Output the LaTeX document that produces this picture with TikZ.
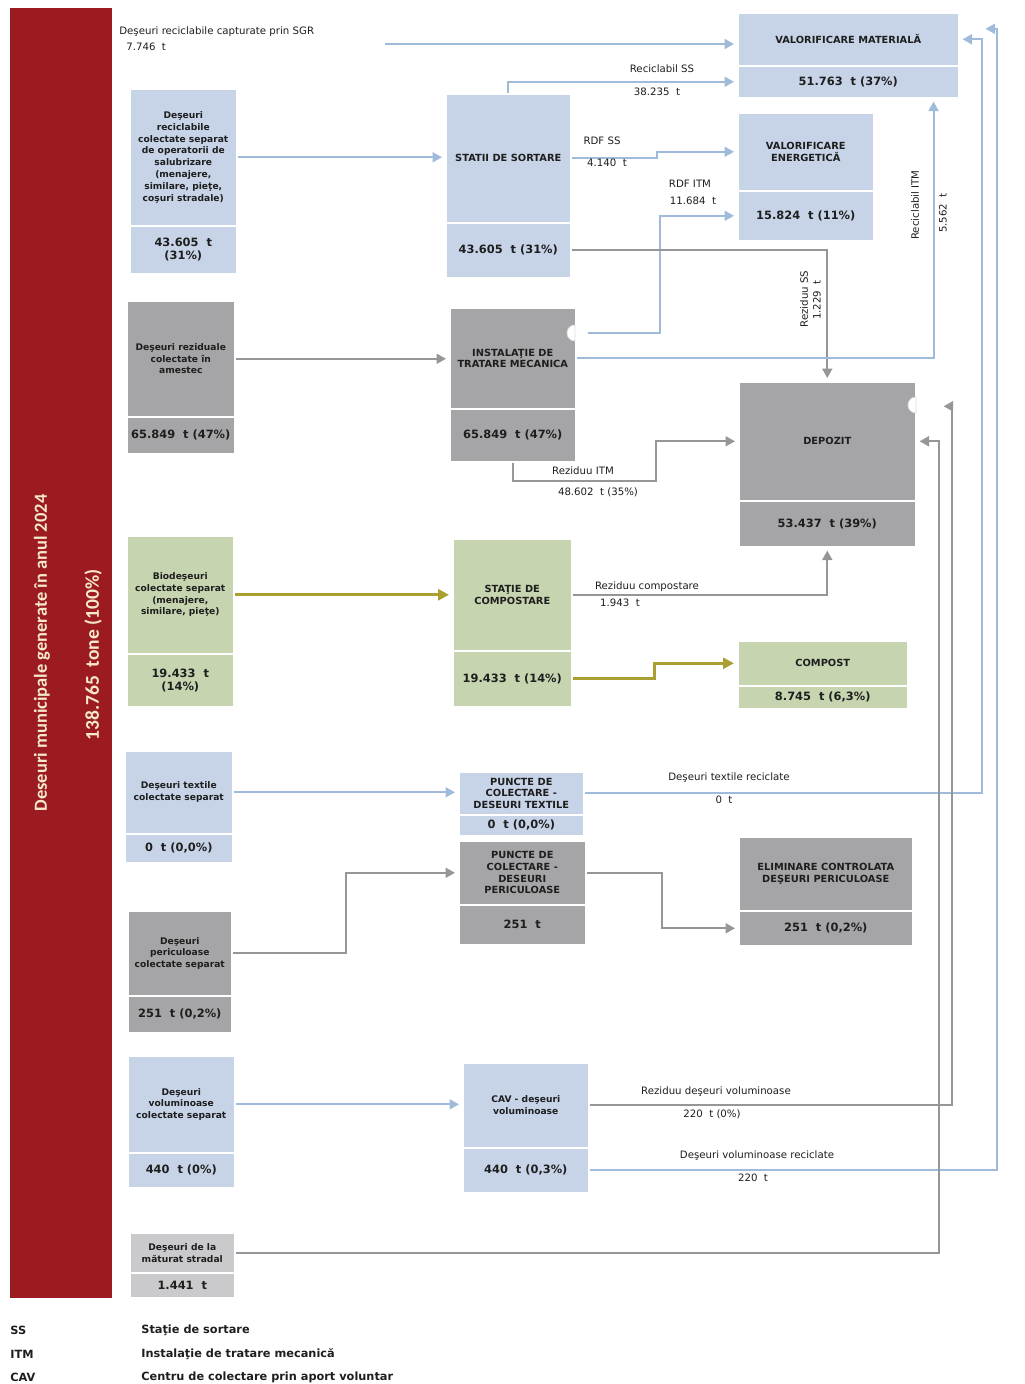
\documentclass[tikz,border=0pt]{standalone}
\usepackage{fontspec}
\newfontfamily\verd{DejaVu Sans}
\newfontfamily\calib{Carlito}
\usetikzlibrary{arrows.meta}

\definecolor{barred}{RGB}{155,27,32}
\definecolor{bartext}{RGB}{245,232,204}
\definecolor{boxblue}{RGB}{199,212,232}
\definecolor{boxgray}{RGB}{165,165,167}
\definecolor{boxgreen}{RGB}{198,213,176}
\definecolor{boxlight}{RGB}{202,202,204}
\definecolor{lineblue}{RGB}{160,186,218}
\definecolor{linegray}{RGB}{150,150,153}
\definecolor{lineolive}{RGB}{170,160,50}
\definecolor{inktext}{RGB}{30,30,30}

\begin{document}
\begin{tikzpicture}[x=0.02cm,y=-0.02cm,
  box/.style={anchor=north west,inner sep=0pt,align=center,draw=white,line width=0.9pt,
    text=inktext,font=\verd\bfseries\fontsize{5.2}{6.7}\selectfont},
  valbox/.style={box,font=\verd\bfseries\fontsize{6.5}{7.4}\selectfont},
  title/.style={font=\verd\bfseries\fontsize{5.6}{6.6}\selectfont},
  lbl/.style={inner sep=0pt,text=inktext,font=\verd\fontsize{5.8}{6.6}\selectfont},
  leg/.style={anchor=west,inner sep=0pt,text=inktext,font=\verd\bfseries\fontsize{6.45}{7}\selectfont},
  bartxt/.style={inner sep=0pt,text=bartext,rotate=90},
  flowblue/.style={draw=lineblue,line width=1.1pt,-{Triangle[length=1.9mm,width=2mm]},shorten >=0.6mm},
  flowgray/.style={draw=linegray,line width=1.1pt,-{Triangle[length=1.9mm,width=2mm]},shorten >=0.6mm},
  flowolive/.style={draw=lineolive,line width=1.8pt,-{Triangle[length=2.2mm,width=2.2mm]},shorten >=0.6mm},
  hop/.style={fill=white,draw=gray!25,line width=0.4pt}]

\useasboundingbox (0,0) rectangle (1025,1384);

\node[anchor=north west,fill=barred,minimum width=2.04cm,minimum height=25.8cm,inner sep=0pt] (bar) at (10,8) {};
\node[bartxt,font=\calib\bfseries\fontsize{10.5}{12}\selectfont] (bartitle) at (42,653) {Deseuri municipale generate în anul 2024};
\node[bartxt,font=\calib\bfseries\fontsize{11.1}{13}\selectfont] (bartotal) at (93,655) {138.765~~tone (100\%)};

\node[box,fill=boxblue,minimum width=2.14cm,minimum height=2.74cm] (rec) at (129,88) {Deşeuri\\reciclabile\\colectate separat\\de operatorii de\\salubrizare\\(menajere,\\similare, pieţe,\\coşuri stradale)};
\node[valbox,fill=boxblue,minimum width=2.14cm,minimum height=0.96cm] (recv) at (129,225) {43.605~~t\\(31\%)};

\node[box,fill=boxgray,minimum width=2.16cm,minimum height=2.32cm] (rez) at (126,300) {Deşeuri reziduale\\colectate în\\amestec};
\node[valbox,fill=boxgray,minimum width=2.16cm,minimum height=0.74cm] (rezv) at (126,416) {65.849~~t (47\%)};

\node[box,fill=boxgreen,minimum width=2.14cm,minimum height=2.36cm] (bio) at (126,535) {Biodeşeuri\\colectate separat\\(menajere,\\similare, pieţe)};
\node[valbox,fill=boxgreen,minimum width=2.14cm,minimum height=1.06cm] (biov) at (126,653) {19.433~~t\\(14\%)};

\node[box,fill=boxblue,minimum width=2.16cm,minimum height=1.66cm] (tex) at (124,750) {Deşeuri textile\\colectate separat};
\node[valbox,fill=boxblue,minimum width=2.16cm,minimum height=0.58cm] (texv) at (124,833) {0~~t (0,0\%)};

\node[box,fill=boxgray,minimum width=2.08cm,minimum height=1.70cm] (per) at (127,910) {Deşeuri\\periculoase\\colectate separat};
\node[valbox,fill=boxgray,minimum width=2.08cm,minimum height=0.74cm] (perv) at (127,995) {251~~t (0,2\%)};

\node[box,fill=boxblue,minimum width=2.14cm,minimum height=1.94cm] (vol) at (127,1055) {Deşeuri\\voluminoase\\colectate separat};
\node[valbox,fill=boxblue,minimum width=2.14cm,minimum height=0.70cm] (volv) at (127,1152) {440~~t (0\%)};

\node[box,fill=boxlight,minimum width=2.10cm,minimum height=0.80cm] (mat) at (129,1232) {Deşeuri de la\\măturat stradal};
\node[valbox,fill=boxlight,minimum width=2.10cm,minimum height=0.50cm] (matv) at (129,1272) {1.441~~t};

\node[box,title,fill=boxblue,minimum width=2.50cm,minimum height=2.58cm] (ss) at (445,93) {STATII DE SORTARE};
\node[valbox,fill=boxblue,minimum width=2.50cm,minimum height=1.10cm] (ssv) at (445,222) {43.605~~t (31\%)};

\node[box,title,fill=boxgray,minimum width=2.52cm,minimum height=2.02cm] (itm) at (449,307) {INSTALAŢIE DE\\TRATARE MECANICA};
\node[valbox,fill=boxgray,minimum width=2.52cm,minimum height=1.06cm] (itmv) at (449,408) {65.849~~t (47\%)};

\node[box,title,fill=boxgreen,minimum width=2.38cm,minimum height=2.24cm] (cmp) at (452,538) {STAŢIE DE\\COMPOSTARE};
\node[valbox,fill=boxgreen,minimum width=2.38cm,minimum height=1.12cm] (cmpv) at (452,650) {19.433~~t (14\%)};

\node[box,title,fill=boxblue,minimum width=2.50cm,minimum height=0.86cm] (ptx) at (458,771) {PUNCTE DE\\COLECTARE -\\DESEURI TEXTILE};
\node[valbox,fill=boxblue,minimum width=2.50cm,minimum height=0.42cm] (ptxv) at (458,814) {0~~t (0,0\%)};

\node[box,title,fill=boxgray,minimum width=2.54cm,minimum height=1.28cm] (ppe) at (458,840) {PUNCTE DE\\COLECTARE -\\DESEURI\\PERICULOASE};
\node[valbox,fill=boxgray,minimum width=2.54cm,minimum height=0.80cm] (ppev) at (458,904) {251~~t};

\node[box,fill=boxblue,minimum width=2.52cm,minimum height=1.70cm] (cav) at (462,1062) {CAV - deşeuri\\voluminoase};
\node[valbox,fill=boxblue,minimum width=2.52cm,minimum height=0.90cm] (cavv) at (462,1147) {440~~t (0,3\%)};

\node[box,title,fill=boxblue,minimum width=4.42cm,minimum height=1.06cm] (vm) at (737,12) {VALORIFICARE MATERIALĂ};
\node[valbox,fill=boxblue,minimum width=4.42cm,minimum height=0.64cm] (vmv) at (737,65) {51.763~~t (37\%)};

\node[box,title,fill=boxblue,minimum width=2.72cm,minimum height=1.56cm] (ve) at (737,112) {VALORIFICARE\\ENERGETICĂ};
\node[valbox,fill=boxblue,minimum width=2.72cm,minimum height=1.00cm] (vev) at (737,190) {15.824~~t (11\%)};

\node[box,title,fill=boxgray,minimum width=3.54cm,minimum height=2.38cm] (dep) at (738,381) {DEPOZIT};
\node[valbox,fill=boxgray,minimum width=3.54cm,minimum height=0.92cm] (depv) at (738,500) {53.437~~t (39\%)};

\node[box,title,fill=boxgreen,minimum width=3.40cm,minimum height=0.90cm] (cpt) at (737,640) {COMPOST};
\node[valbox,fill=boxgreen,minimum width=3.40cm,minimum height=0.46cm] (cptv) at (737,685) {8.745~~t (6,3\%)};

\node[box,title,fill=boxgray,minimum width=3.48cm,minimum height=1.48cm] (elim) at (738,836) {ELIMINARE CONTROLATA\\DEŞEURI PERICULOASE};
\node[valbox,fill=boxgray,minimum width=3.48cm,minimum height=0.70cm] (elimv) at (738,910) {251~~t (0,2\%)};

\filldraw[hop] (575,325) arc[start angle=90,end angle=270,radius=0.16cm] -- cycle;
\filldraw[hop] (916,397) arc[start angle=90,end angle=270,radius=0.16cm] -- cycle;

\coordinate (sgrin) at (385,44);
\coordinate (rdfitm) at (588,333);

\node[lbl,anchor=west] (sgr) at (119,32) {Deşeuri reciclabile capturate prin SGR};
\node[lbl,anchor=west] (sgrt) at (126,47) {7.746~~t};
\draw[flowblue] (sgrin) -- (sgrin -| vm.west);

\draw[flowblue] (rec.east) -- (rec.east -| ss.west);
\draw[flowblue] (ss.north) |- (vmv.west);
\node[lbl] (lrss) at (662,69) {Reciclabil SS};
\node[lbl] (lrssv) at (657,92) {38.235~~t};

\draw[flowblue] (ss.east) -- ++(85,0) |- (ve.west);
\node[lbl] (lrdfss) at (602,141) {RDF SS};
\node[lbl] (lrdfssv) at (607,163) {4.140~~t};

\draw[flowblue] (rdfitm) -- ++(72,0) |- (vev.west);
\node[lbl] (lrdfitm) at (690,184) {RDF ITM};
\node[lbl] (lrdfitmv) at (693,201) {11.684~~t};

\draw[flowgray] (ssv.east) -| (dep.north);
\node[lbl,rotate=90] (lrzss) at (804,299) {Reziduu SS};
\node[lbl,rotate=90] (lrzssv) at (817,300) {1.229~~t};

\draw[flowblue] (itm.east) -| ([xshift=-0.52cm]vmv.south east);
\node[lbl,rotate=90] (lritm) at (915,205) {Reciclabil ITM};
\node[lbl,rotate=90] (lritmv) at (943,213) {5.562~~t};

\draw[flowgray] (rez.east) -- (rez.east -| itm.west);
\draw[flowgray] (itmv.south) -- ++(0,18) -- ++(143,0) |- (dep.west);
\node[lbl] (lrzitm) at (583,471) {Reziduu ITM};
\node[lbl] (lrzitmv) at (598,492) {48.602~~t (35\%)};

\draw[flowolive] (bio.east) -- (bio.east -| cmp.west);
\draw[flowgray] (cmp.east) -| (depv.south);
\node[lbl] (lrzc) at (647,587) {Reziduu compostare};
\node[lbl] (lrzcv) at (620,603) {1.943~~t};
\draw[flowolive] (cmpv.east) -- ++(82,0) |- (cpt.west);

\draw[flowblue] (tex.east) -- (tex.east -| ptx.west);
\draw[flowblue] (ptx.east) -| ([xshift=0.44cm]vm.east) -- (vm.east);
\node[lbl] (ltxr) at (729,778) {Deşeuri textile reciclate};
\node[lbl] (ltxrv) at (724,800) {0~~t};

\draw[flowgray] (per.east) -- ++(113,0) |- (ppe.west);
\draw[flowgray] (ppe.east) -- ++(75,0) |- (elimv.west);

\draw[flowblue] (vol.east) -- (vol.east -| cav.west);
\draw[flowgray] (cav.east) -| ([xshift=0.7cm,yshift=0.7cm]dep.east) -- ([xshift=0.48cm,yshift=0.7cm]dep.east);
\node[lbl] (lrzv) at (716,1092) {Reziduu deşeuri voluminoase};
\node[lbl] (lrzvv) at (712,1114) {220~~t (0\%)};

\draw[flowblue] (cavv.east) -| ([xshift=0.74cm,yshift=0.21cm]vm.east) -- ([xshift=0.46cm,yshift=0.21cm]vm.east);
\node[lbl] (lvr) at (757,1156) {Deşeuri voluminoase reciclate};
\node[lbl] (lvrv) at (753,1178) {220~~t};

\draw[flowgray] (mat.east) -| ([xshift=0.44cm]dep.east) -- (dep.east);

\node[leg] (kss) at (10,1330) {SS};
\node[leg] (kssd) at (141,1330) {Staţie de sortare};
\node[leg] (kitm) at (10,1354) {ITM};
\node[leg] (kitmd) at (141,1354) {Instalaţie de tratare mecanică};
\node[leg] (kcav) at (10,1377) {CAV};
\node[leg] (kcavd) at (141,1377) {Centru de colectare prin aport voluntar};

\end{tikzpicture}
\end{document}
